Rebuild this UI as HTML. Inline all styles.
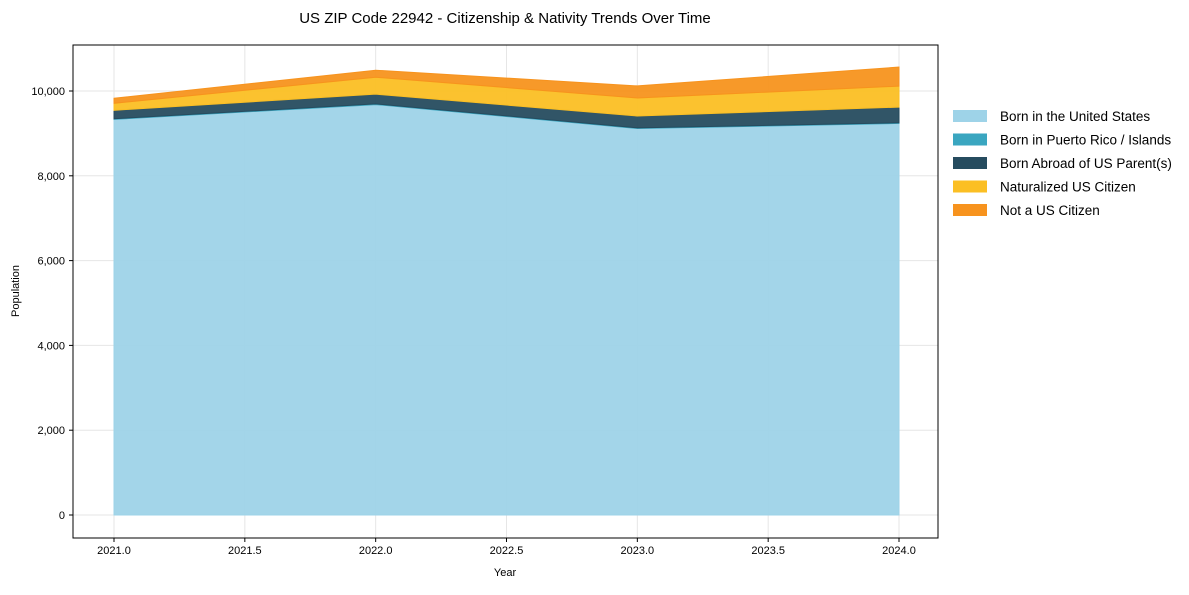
<!DOCTYPE html>
<html><head><meta charset="utf-8"><style>
body{margin:0;background:#fff;font-family:"Liberation Sans",Arial,sans-serif;}
</style></head><body>
<svg id="c" width="1189" height="590" xmlns="http://www.w3.org/2000/svg">
<text x="505" y="23" text-anchor="middle" font-size="15" fill="#000">US ZIP Code 22942 - Citizenship &amp; Nativity Trends Over Time</text>
<g id="grid"></g><g id="areas"></g>
<rect x="73" y="45" width="865" height="493" fill="none" stroke="#000" stroke-width="1"/>
<g id="axes" font-size="11"></g>
<text x="505" y="576" text-anchor="middle" font-size="11">Year</text>
<text transform="translate(19,291) rotate(-90)" text-anchor="middle" font-size="11">Population</text>
<g id="legend" font-size="13.5"></g>
</svg>
<script>
const years=[2021,2022,2023,2024];
const bornUS=[9330,9680,9115,9235];
const bornPR=[15,15,15,15];
const bornAbroad=[200,230,280,370];
const naturalized=[165,400,425,495];
const notCitizen=[120,165,285,450];
const seriesNames=["Born in the United States","Born in Puerto Rico / Islands","Born Abroad of US Parent(s)","Naturalized US Citizen","Not a US Citizen"];
const yTicks=[0,2000,4000,6000,8000,10000];
const xTicks=[2021,2021.5,2022,2022.5,2023,2023.5,2024];
const colors=["#9ed3e8","#3aa6c0","#264c5f","#fbbf24","#f7931e"];
const NS="http://www.w3.org/2000/svg";
const X=v=>114+(v-2021)*261.67, Y=v=>515-v*0.0424;
function mk(t,a,p){const e=document.createElementNS(NS,t);for(const k in a)e.setAttribute(k,a[k]);p.appendChild(e);return e;}
const g=document.getElementById('grid'),ax=document.getElementById('axes');
xTicks.forEach(t=>{
 const l=mk('line',{x1:X(t),x2:X(t),y1:45,y2:538,stroke:'#e6e6e6'},g);
 
 mk('line',{x1:X(t),x2:X(t),y1:538,y2:542,stroke:'#000'},ax);
 const tx=mk('text',{x:X(t),y:554,'text-anchor':'middle'},ax);tx.textContent=t.toFixed(1);
 
});
yTicks.forEach(t=>{
 const l=mk('line',{x1:73,x2:938,y1:Y(t),y2:Y(t),stroke:'#e6e6e6'},g);
 
 mk('line',{x1:69,x2:73,y1:Y(t),y2:Y(t),stroke:'#000'},ax);
 const tx=mk('text',{x:65,y:Y(t)+4,'text-anchor':'end'},ax);tx.textContent=t.toLocaleString('en-US');
 
});
const series=[bornUS,bornPR,bornAbroad,naturalized,notCitizen];
let base=years.map(()=>0);
const ar=document.getElementById('areas');
series.forEach((s,i)=>{
 const top=base.map((b,j)=>b+s[j]);
 let d=years.map((y,j)=>(j?'L':'M')+X(y)+','+Y(top[j])).join('');
 for(let j=years.length-1;j>=0;j--)d+='L'+X(years[j])+','+Y(base[j]);
 const p=mk('path',{d:d+'Z',fill:colors[i],'fill-opacity':0.95,stroke:colors[i]},ar);
 
 base=top;
});
const lg=document.getElementById('legend');
seriesNames.forEach((n,i)=>{
 const y=116+i*23.5;
 const r=mk('rect',{x:953,y:y-6,width:34,height:12,fill:colors[i]},lg);
 
 const t=mk('text',{x:1000,y:y+5},lg);t.textContent=n;
 
});
</script>
</body></html>
